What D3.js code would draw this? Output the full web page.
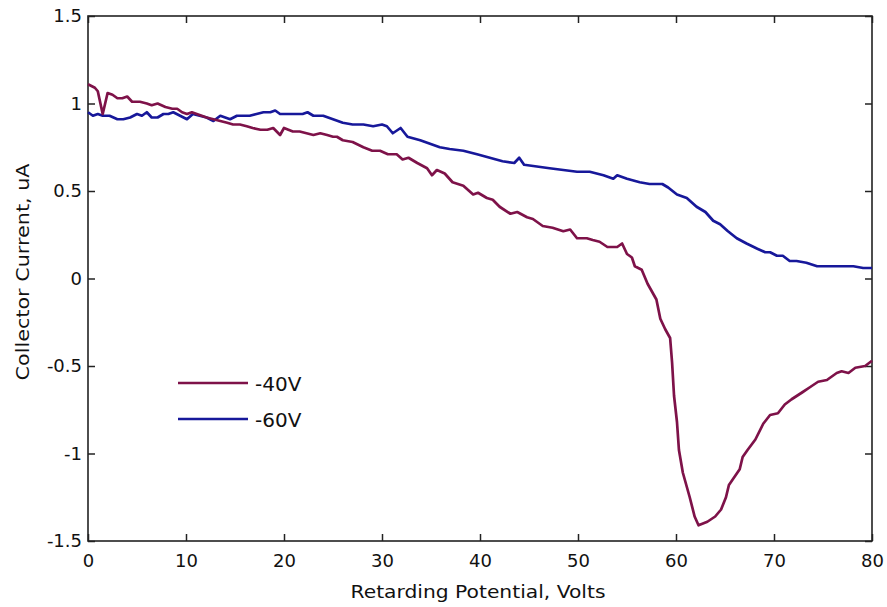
<!DOCTYPE html>
<html><head><meta charset="utf-8">
<script src="https://cdn.jsdelivr.net/npm/d3@7"></script>
<style>html,body{margin:0;padding:0;background:#fff;}svg{display:block;}</style>
</head><body>
<svg id="chart" width="887" height="607"></svg>
<script>
const xTicks = [0,10,20,30,40,50,60,70,80];
const yTicks = [-1.5,-1,-0.5,0,0.5,1,1.5];
const yTickLabels = ["-1.5","-1","-0.5","0","0.5","1","1.5"];
const seriesNames = ["-40V","-60V"];
const seriesColors = ["#7e1249","#17189a"];

const xRed = [0,0.7,1.0,1.5,2.0,2.5,3.0,3.5,4.0,4.5,5.3,6.0,6.5,7.1,7.9,8.6,9.1,9.6,10.1,10.6,11.1,11.6,12.1,12.8,13.5,14.2,14.8,15.5,16.2,16.8,17.6,18.3,18.9,19.6,20.0,20.9,21.6,22.3,23.0,23.7,24.4,25.0,25.4,26.0,27.0,28.1,29.0,29.8,30.6,31.5,32.1,32.7,33.6,34.6,35.1,35.6,36.4,37.2,38.3,39.3,39.8,40.7,41.3,42.0,43.1,43.8,44.8,45.4,46.4,47.4,48.5,49.2,49.9,50.9,51.5,52.2,53.0,54.0,54.5,55.0,55.5,55.8,56.5,57.1,58.0,58.4,58.9,59.4,59.6,59.8,60.1,60.3,60.7,61.4,61.9,62.3,63.2,64.0,64.6,65.1,65.4,66.5,66.8,67.3,68.1,68.9,69.6,70.4,71.1,71.8,72.9,73.7,74.5,75.4,76.4,76.9,77.6,78.3,79.3,80.0];
const yRed = [1.11,1.09,1.07,0.94,1.06,1.05,1.03,1.03,1.04,1.01,1.01,1.00,0.99,1.00,0.98,0.97,0.97,0.95,0.94,0.95,0.94,0.93,0.92,0.91,0.90,0.89,0.88,0.88,0.87,0.86,0.85,0.85,0.86,0.82,0.86,0.84,0.84,0.83,0.82,0.83,0.82,0.81,0.81,0.79,0.78,0.75,0.73,0.73,0.71,0.71,0.68,0.69,0.66,0.63,0.59,0.62,0.60,0.55,0.53,0.48,0.49,0.46,0.45,0.41,0.37,0.38,0.35,0.34,0.30,0.29,0.27,0.28,0.23,0.23,0.22,0.21,0.18,0.18,0.20,0.14,0.12,0.07,0.05,-0.03,-0.12,-0.23,-0.29,-0.34,-0.48,-0.67,-0.82,-0.98,-1.11,-1.25,-1.36,-1.41,-1.39,-1.36,-1.32,-1.25,-1.18,-1.09,-1.02,-0.98,-0.92,-0.83,-0.78,-0.77,-0.72,-0.69,-0.65,-0.62,-0.59,-0.58,-0.54,-0.53,-0.54,-0.51,-0.50,-0.47];

const xBlue = [0,0.5,1.0,1.5,2.2,3.0,3.6,4.3,5.0,5.5,6.0,6.5,7.1,7.7,8.2,8.7,9.4,10.1,10.7,11.4,12.1,12.8,13.5,14.5,15.2,15.8,16.5,17.2,17.9,18.6,19.1,19.6,20.3,21.3,21.9,22.4,23.0,24.0,25.0,26.0,27.0,28.1,29.1,30.0,30.5,31.1,31.9,32.6,33.9,34.9,35.9,36.9,38.3,39.7,41.0,42.3,43.5,44.0,44.5,45.8,47.1,48.5,49.9,51.2,52.6,53.6,54.0,55.0,56.3,57.3,58.6,59.2,60.1,61.1,62.1,63.0,63.8,64.5,65.3,66.2,67.2,68.3,69.1,69.6,70.3,70.9,71.6,72.3,73.3,74.4,75.0,76.0,77.0,78.1,79.1,80.0];
const yBlue = [0.95,0.93,0.94,0.93,0.93,0.91,0.91,0.92,0.94,0.93,0.95,0.92,0.92,0.94,0.94,0.95,0.93,0.91,0.94,0.93,0.92,0.90,0.93,0.91,0.93,0.93,0.93,0.94,0.95,0.95,0.96,0.94,0.94,0.94,0.94,0.95,0.93,0.93,0.91,0.89,0.88,0.88,0.87,0.88,0.87,0.83,0.86,0.81,0.79,0.77,0.75,0.74,0.73,0.71,0.69,0.67,0.66,0.69,0.65,0.64,0.63,0.62,0.61,0.61,0.59,0.57,0.59,0.57,0.55,0.54,0.54,0.52,0.48,0.46,0.41,0.38,0.33,0.31,0.27,0.23,0.20,0.17,0.15,0.15,0.13,0.13,0.10,0.10,0.09,0.07,0.07,0.07,0.07,0.07,0.06,0.06];

const svg = d3.select("#chart");
const W = 887, H = 607;
const m = {left: 88, right: 15, top: 16, bottom: 66};
const x = d3.scaleLinear().domain([0,80]).range([m.left, W - m.right]);
const y = d3.scaleLinear().domain([-1.5,1.5]).range([H - m.bottom, m.top]);
const font = "'DejaVu Sans', sans-serif";
const axisColor = "#222";

// frame
svg.append("rect")
  .attr("x", x(0)).attr("y", y(1.5))
  .attr("width", x(80) - x(0)).attr("height", y(-1.5) - y(1.5))
  .attr("fill", "none").attr("stroke", axisColor).attr("stroke-width", 1.6);

const tl = 7;
function styleAxis(g){
  g.select(".domain").remove();
  g.selectAll(".tick line").attr("stroke", axisColor).attr("stroke-width", 1.5);
  g.selectAll(".tick text").attr("fill", "#111").style("font-family", font).style("font-size", "18px");
}
// bottom
svg.append("g").attr("transform", `translate(0,${y(-1.5)})`)
  .call(d3.axisBottom(x).tickValues(xTicks).tickSizeInner(-tl).tickSizeOuter(0).tickPadding(13).tickFormat(d3.format("d")))
  .call(styleAxis);
// top
svg.append("g").attr("transform", `translate(0,${y(1.5)})`)
  .call(d3.axisTop(x).tickValues(xTicks).tickSizeInner(-tl).tickSizeOuter(0).tickFormat(""))
  .call(styleAxis);
// left
svg.append("g").attr("transform", `translate(${x(0)},0)`)
  .call(d3.axisLeft(y).tickValues(yTicks).tickSizeInner(-tl).tickSizeOuter(0).tickPadding(6).tickFormat((d,i)=>yTickLabels[i]))
  .call(styleAxis);
// right
svg.append("g").attr("transform", `translate(${x(80)},0)`)
  .call(d3.axisRight(y).tickValues(yTicks).tickSizeInner(-tl).tickSizeOuter(0).tickFormat(""))
  .call(styleAxis);

// lines
const line = d3.line().x(d => x(d[0])).y(d => y(d[1]));
const redData = xRed.map((v,i)=>[v, yRed[i]]);
const blueData = xBlue.map((v,i)=>[v, yBlue[i]]);
svg.append("path").datum(blueData).attr("d", line)
  .attr("fill","none").attr("stroke", seriesColors[1]).attr("stroke-width", 2.7).attr("stroke-linejoin","round");
svg.append("path").datum(redData).attr("d", line)
  .attr("fill","none").attr("stroke", seriesColors[0]).attr("stroke-width", 2.7).attr("stroke-linejoin","round");

// legend
const leg = svg.append("g");
seriesNames.forEach((name, i) => {
  const ly = 383 + i * 36;
  leg.append("line").attr("x1", 178).attr("x2", 248).attr("y1", ly).attr("y2", ly)
    .attr("stroke", seriesColors[i]).attr("stroke-width", 2.7);
  leg.append("text").attr("x", 255).attr("y", ly + 8).text(name)
    .style("font-family", font).style("font-size", "20px").attr("fill", "#111");
});

// axis titles
svg.append("text").attr("x", 478).attr("y", 598).attr("text-anchor", "middle")
  .attr("textLength", 255).attr("lengthAdjust", "spacingAndGlyphs")
  .text("Retarding Potential, Volts").style("font-family", font).style("font-size", "18px").attr("fill", "#111");
svg.append("text").attr("transform", `translate(29,272) rotate(-90)`).attr("text-anchor", "middle")
  .attr("textLength", 217).attr("lengthAdjust", "spacingAndGlyphs")
  .text("Collector Current,  uA").style("font-family", font).style("font-size", "18px").attr("fill", "#111");
</script>
</body></html>
